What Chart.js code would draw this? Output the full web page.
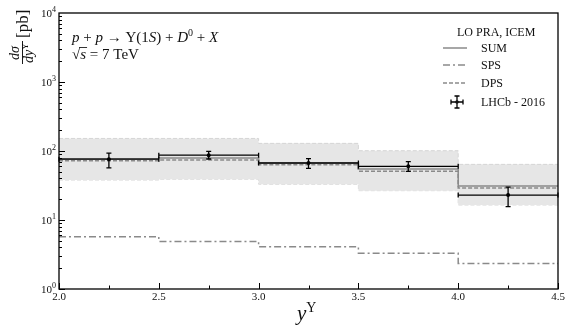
<!DOCTYPE html>
<html>
<head>
<meta charset="utf-8">
<script src="https://cdn.jsdelivr.net/npm/chart.js@4/dist/chart.umd.min.js"></script>
<style>
  html, body { margin: 0; padding: 0; background: #fff; }
  #wrap { width: 570px; height: 327px; }
</style>
</head>
<body>
<div id="wrap"><canvas id="chart" width="570" height="327"></canvas></div>
<script>
// bin edges in y^Upsilon
const edges = [2.0, 2.5, 3.0, 3.5, 4.0, 4.5];
// theory curves, pb per unit rapidity
const sumVals = [77, 79, 67, 55, 31];
const spsVals = [5.7, 4.9, 4.1, 3.3, 2.35];
const dpsVals = [72, 74, 63, 51, 29];
// scale uncertainty band
const bandHigh = [152, 152, 129, 101, 64];
const bandLow = [38, 39, 33, 26.6, 16.5];
// LHCb 2016 data
const lhcbX = [2.25, 2.75, 3.25, 3.75, 4.25];
const lhcbVals = [76, 87, 67, 60, 23];
const lhcbHi = [93, 99, 77.6, 70, 30];
const lhcbLo = [57, 76.6, 56, 50.8, 15.6];

const xTicks = [2.0, 2.5, 3.0, 3.5, 4.0, 4.5];
const yTicks = [1, 10, 100, 1000, 10000];

const SERIF = '"Liberation Serif", "DejaVu Serif", serif';
const lineGray = '#8a8a8a';

// histogram: value i holds from edge i to edge i+1 (used with stepped 'before')
function steps(vals) {
  return edges.map((x, i) => ({ x: x, y: vals[Math.min(i, vals.length - 1)] }));
}

// draws a row of text pieces with different fonts / offsets
function drawRuns(ctx, x, y, runs) {
  let cx = x;
  runs.forEach(r => {
    ctx.font = r.font;
    ctx.fillText(r.t, cx, y + (r.dy || 0));
    cx += ctx.measureText(r.t).width;
  });
  return cx;
}

const framePlugin = {
  id: 'framePlugin',
  afterDatasetsDraw(chart) {
    const ctx = chart.ctx;
    const a = chart.chartArea;
    const xs = chart.scales.x, ys = chart.scales.y;
    ctx.save();

    // error bars for data
    ctx.strokeStyle = '#000';
    ctx.fillStyle = '#000';
    ctx.lineWidth = 1.3;
    lhcbX.forEach((xv, i) => {
      const x0 = xs.getPixelForValue(edges[i]);
      const x1 = xs.getPixelForValue(edges[i + 1]);
      const xc = xs.getPixelForValue(xv);
      const yc = ys.getPixelForValue(lhcbVals[i]);
      const yh = ys.getPixelForValue(lhcbHi[i]);
      const yl = ys.getPixelForValue(lhcbLo[i]);
      ctx.beginPath();
      ctx.moveTo(x0, yc); ctx.lineTo(x1, yc);
      ctx.moveTo(x0, yc - 2.5); ctx.lineTo(x0, yc + 2.5);
      ctx.moveTo(x1, yc - 2.5); ctx.lineTo(x1, yc + 2.5);
      ctx.moveTo(xc, yh); ctx.lineTo(xc, yl);
      ctx.moveTo(xc - 2.5, yh); ctx.lineTo(xc + 2.5, yh);
      ctx.moveTo(xc - 2.5, yl); ctx.lineTo(xc + 2.5, yl);
      ctx.stroke();
      ctx.beginPath();
      ctx.arc(xc, yc, 2, 0, Math.PI * 2);
      ctx.fill();
    });

    // frame
    ctx.lineWidth = 1.3;
    ctx.strokeRect(a.left, a.top, a.right - a.left, a.bottom - a.top);

    // x ticks (inside)
    ctx.lineWidth = 1;
    ctx.beginPath();
    for (let v = 2.0; v <= 4.5001; v += 0.25) {
      const px = Math.round(xs.getPixelForValue(v)) + 0.5;
      const major = Math.abs(v * 2 - Math.round(v * 2)) < 1e-6;
      ctx.moveTo(px, a.bottom);
      ctx.lineTo(px, a.bottom - (major ? 6 : 3.5));
    }
    // y ticks (inside, log)
    for (let d = 0; d < 4; d++) {
      for (let m = 1; m <= 9; m++) {
        const v = m * Math.pow(10, d);
        const py = Math.round(ys.getPixelForValue(v)) + 0.5;
        ctx.moveTo(a.left, py);
        ctx.lineTo(a.left + (m === 1 ? 6 : 3), py);
      }
    }
    ctx.stroke();

    // tick labels
    ctx.fillStyle = '#111';
    ctx.textBaseline = 'alphabetic';
    ctx.font = '11px ' + SERIF;
    ctx.textAlign = 'center';
    xTicks.forEach(v => {
      ctx.fillText(v.toFixed(1), xs.getPixelForValue(v), a.bottom + 11);
    });
    ctx.textAlign = 'left';
    yTicks.forEach((v, i) => {
      const py = ys.getPixelForValue(v);
      ctx.font = '11px ' + SERIF;
      const w10 = ctx.measureText('10').width;
      ctx.font = '8px ' + SERIF;
      const wexp = ctx.measureText(String(i)).width;
      const x0 = a.left - 3 - w10 - wexp;
      drawRuns(ctx, x0, py + 4, [
        { t: '10', font: '11px ' + SERIF },
        { t: String(i), font: '8px ' + SERIF, dy: -5 }
      ]);
    });

    // x title
    drawRuns(ctx, 297, 320, [
      { t: 'y', font: 'italic 21px ' + SERIF },
      { t: 'Υ', font: '14px ' + SERIF, dy: -8 }
    ]);

    // y title (rotated)
    ctx.save();
    ctx.translate(22, 64);
    ctx.rotate(-Math.PI / 2);
    ctx.textAlign = 'left';
    drawRuns(ctx, 4, -3, [
      { t: 'd', font: 'italic 14px ' + SERIF },
      { t: 'σ', font: 'italic 14px ' + SERIF }
    ]);
    drawRuns(ctx, 1, 11, [
      { t: 'dy', font: 'italic 14px ' + SERIF },
      { t: 'Υ', font: '9px ' + SERIF, dy: -5 }
    ]);
    ctx.lineWidth = 0.9;
    ctx.beginPath();
    ctx.moveTo(0, 0.5); ctx.lineTo(23, 0.5);
    ctx.stroke();
    ctx.font = '17px ' + SERIF;
    ctx.fillText('[pb]', 26, 6);
    ctx.restore();

    // process annotation
    const it = 'italic 15px ' + SERIF, rm = '15px ' + SERIF;
    drawRuns(ctx, 72, 42, [
      { t: 'p', font: it }, { t: ' + ', font: rm }, { t: 'p', font: it },
      { t: ' → ', font: rm }, { t: 'Υ(1', font: rm }, { t: 'S', font: it },
      { t: ') + ', font: rm }, { t: 'D', font: it },
      { t: '0', font: '10px ' + SERIF, dy: -6 },
      { t: ' + ', font: rm }, { t: 'X', font: it }
    ]);
    const sx0 = drawRuns(ctx, 72, 59, [{ t: '√', font: rm }]);
    const sx1 = drawRuns(ctx, sx0, 59, [{ t: 's', font: it }]);
    ctx.lineWidth = 0.8;
    ctx.beginPath();
    ctx.moveTo(sx0 - 1, 47.5); ctx.lineTo(sx1 + 1, 47.5);
    ctx.stroke();
    drawRuns(ctx, sx1, 59, [{ t: ' = 7 TeV', font: rm }]);

    // legend
    ctx.font = '12px ' + SERIF;
    ctx.fillText('LO PRA, ICEM', 457, 36);
    const leg = [
      { label: 'SUM', dash: [], y: 48 },
      { label: 'SPS', dash: [7, 3, 2, 3], y: 65 },
      { label: 'DPS', dash: [4, 2], y: 83 }
    ];
    leg.forEach(l => {
      ctx.strokeStyle = lineGray;
      ctx.lineWidth = 1.5;
      ctx.setLineDash(l.dash);
      ctx.beginPath();
      ctx.moveTo(443, l.y); ctx.lineTo(467, l.y);
      ctx.stroke();
      ctx.setLineDash([]);
      ctx.fillText(l.label, 481, l.y + 4);
    });
    ctx.strokeStyle = '#000';
    ctx.lineWidth = 1.3;
    ctx.beginPath();
    ctx.moveTo(451, 102); ctx.lineTo(463, 102);
    ctx.moveTo(451, 99.5); ctx.lineTo(451, 104.5);
    ctx.moveTo(463, 99.5); ctx.lineTo(463, 104.5);
    ctx.moveTo(457, 96); ctx.lineTo(457, 108);
    ctx.moveTo(454.5, 96); ctx.lineTo(459.5, 96);
    ctx.moveTo(454.5, 108); ctx.lineTo(459.5, 108);
    ctx.stroke();
    ctx.beginPath();
    ctx.arc(457, 102, 1.8, 0, Math.PI * 2);
    ctx.fill();
    ctx.fillText('LHCb - 2016', 481, 106);

    ctx.restore();
  }
};

new Chart(document.getElementById('chart'), {
  type: 'line',
  data: {
    datasets: [
      {
        label: 'SUM',
        data: steps(sumVals),
        stepped: 'before',
        borderColor: lineGray,
        borderWidth: 1.5,
        pointRadius: 0,
        fill: false,
        order: 1
      },
      {
        label: 'SPS',
        data: steps(spsVals),
        stepped: 'before',
        borderColor: lineGray,
        borderWidth: 1.5,
        borderDash: [7, 3, 2, 3],
        pointRadius: 0,
        fill: false,
        order: 2
      },
      {
        label: 'DPS',
        data: steps(dpsVals),
        stepped: 'before',
        borderColor: lineGray,
        borderWidth: 1.5,
        borderDash: [4, 2],
        pointRadius: 0,
        fill: false,
        order: 3
      },
      {
        label: 'band high',
        data: steps(bandHigh),
        stepped: 'before',
        borderColor: '#d6d6d6',
        borderWidth: 1,
        borderDash: [4, 2],
        backgroundColor: '#e6e6e6',
        pointRadius: 0,
        fill: '+1',
        order: 4
      },
      {
        label: 'band low',
        data: steps(bandLow),
        stepped: 'before',
        borderColor: '#d6d6d6',
        borderWidth: 1,
        borderDash: [4, 2],
        pointRadius: 0,
        fill: false,
        order: 5
      }
    ]
  },
  options: {
    responsive: false,
    animation: false,
    layout: { padding: { left: 59, right: 12, top: 13, bottom: 38 } },
    plugins: {
      legend: { display: false },
      tooltip: { enabled: false }
    },
    scales: {
      x: { type: 'linear', min: 2.0, max: 4.5, display: false },
      y: { type: 'logarithmic', min: 1, max: 10000, display: false }
    }
  },
  plugins: [framePlugin]
});
</script>
</body>
</html>
